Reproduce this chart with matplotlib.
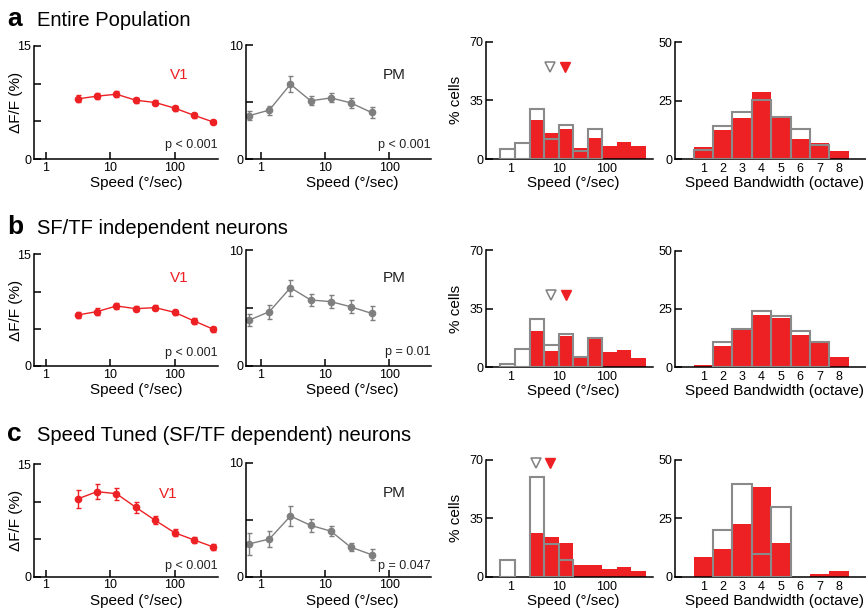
import numpy as np
import matplotlib
matplotlib.use('Agg')
import matplotlib.pyplot as plt

plt.rcParams['font.family'] = ['Liberation Sans', 'DejaVu Sans']

RED = '#ed2024'
GREY = '#7f7f7f'
HGREY = '#8a8a8a'

# ---- data ----
v1_speed = [3.125, 6.25, 12.5, 25, 50, 100, 200, 400]
pm_speed = [0.65, 1.36, 2.9, 6.0, 12.3, 25, 53]

v1_a = [7.98, 8.34, 8.6, 7.8, 7.5, 6.75, 5.8, 4.9]
v1_a_err = [0.45, 0.4, 0.4, 0.35, 0.35, 0.35, 0.35, 0.3]
pm_a = [3.79, 4.29, 6.56, 5.1, 5.36, 4.93, 4.08]
pm_a_err = [0.4, 0.4, 0.7, 0.4, 0.4, 0.45, 0.45]

v1_b = [6.85, 7.3, 8.06, 7.7, 7.84, 7.2, 6.05, 4.93]
v1_b_err = [0.45, 0.45, 0.4, 0.35, 0.35, 0.35, 0.4, 0.3]
pm_b = [3.94, 4.68, 6.75, 5.69, 5.55, 5.11, 4.54]
pm_b_err = [0.5, 0.6, 0.7, 0.55, 0.57, 0.57, 0.6]

v1_c = [10.37, 11.35, 11.08, 9.26, 7.52, 5.87, 4.9, 3.96]
v1_c_err = [1.2, 1.0, 0.8, 0.7, 0.55, 0.5, 0.4, 0.4]
pm_c = [2.87, 3.3, 5.32, 4.5, 4.0, 2.6, 1.93]
pm_c_err = [0.95, 0.7, 0.9, 0.6, 0.45, 0.35, 0.5]

# speed histogram (octave bins)
sp_edges = [0.625, 1.25, 2.5, 5, 10, 20, 40, 80, 160, 320, 640]
hv1_a = [0, 0, 23.3, 15.5, 17.9, 6.6, 12.7, 7.8, 10.1, 7.8]
hpm_a = [6, 9.3, 29.6, 12, 20, 5, 17.9, 0, 0, 0]
hv1_b = [0, 0, 21.6, 9.6, 18.6, 6.2, 17.2, 9, 10.2, 5.4]
hpm_b = [2, 10.8, 28.5, 13, 19.6, 6.2, 17.6, 0, 0, 0]
hv1_c = [0, 0, 26.2, 23.8, 20.2, 7, 7, 4.6, 5.8, 3.4]
hpm_c = [9.8, 0, 59.8, 19.8, 9.8, 0, 0, 0, 0, 0]

# median markers (PM, V1) and their height
med_a = (6.7, 13.8, 55)
med_b = (7.1, 14.4, 43)
med_c = (3.45, 6.7, 68)

# speed bandwidth histogram
bw = [1, 2, 3, 4, 5, 6, 7, 8]
bv1_a = [5, 12.4, 17.7, 28.7, 17.9, 8.6, 6.7, 3.4]
bpm_a = [3.7, 14.3, 20.3, 25.1, 17.9, 13, 6, 0]
bv1_b = [0.7, 9, 16.2, 22.2, 21.2, 13.9, 10.9, 4.3]
bpm_b = [0, 10.9, 16.2, 24.2, 22.1, 15.5, 10.9, 0]
bv1_c = [8.4, 11.9, 22.6, 38.4, 14.4, 0, 1, 2.4]
bpm_c = [0, 19.9, 39.9, 9.9, 29.9, 0, 0, 0]

titles = ['Entire Population', 'SF/TF independent neurons',
          'Speed Tuned (SF/TF dependent) neurons']
letters = ['a', 'b', 'c']
pvals_v1 = ['p < 0.001', 'p < 0.001', 'p < 0.001']
pvals_pm = ['p < 0.001', 'p = 0.01', 'p = 0.047']

W, H = 866, 614
fig = plt.figure(figsize=(W / 100, H / 100), dpi=100)


def px_axes(l, r, t, b):
    return fig.add_axes([l / W, 1 - b / H, (r - l) / W, (b - t) / H])


def style(ax):
    for s in ('top', 'right'):
        ax.spines[s].set_visible(False)
    for s in ('left', 'bottom'):
        ax.spines[s].set_linewidth(1.1)
    ax.tick_params(direction='in', length=5, width=1.1, labelsize=9, pad=2)
    ax.minorticks_off()


def xlabel_at(ax, text, xfrac, top_px):
    # place the x label so its top sits top_px below the axis line
    ax.set_xlabel(text, fontsize=11)
    h = ax.get_position().height * H
    ax.xaxis.set_label_coords(xfrac, -top_px / h)


def line_panel(ax, x, y, err, color, ymax, yticks, ylabels, name, ptxt, name_xy, p_y):
    ax.errorbar(x, y, yerr=err, color=color, marker='o', ms=4.5, lw=1.0,
                elinewidth=1.0, capsize=1.8, capthick=1.0)
    ax.set_xscale('log')
    style(ax)
    ax.set_ylim(0, ymax)
    ax.set_yticks(yticks)
    ax.set_yticklabels(ylabels)
    ax.set_xticks([1, 10, 100])
    ax.set_xticklabels(['1', '10', '100'])
    ax.minorticks_off()
    ax.text(name_xy[0], name_xy[1], name, transform=ax.transAxes, fontsize=11,
            color=RED if name == 'V1' else '#222222', ha='center', va='center')
    ax.text(1.0, p_y, ptxt, transform=ax.transAxes, fontsize=9,
            ha='right', va='center', color='#222222')


def speed_hist(ax, v1, pm, med):
    left = np.array(sp_edges[:-1])
    width = np.array(sp_edges[1:]) - left
    v1 = np.array(v1)
    pm = np.array(pm)
    ax.bar(left, v1, width=width, align='edge', color=RED, edgecolor='none', zorder=2)
    m = pm > 0
    ax.bar(left[m], pm[m], width=width[m], align='edge', fill=False,
           edgecolor=HGREY, linewidth=1.5, zorder=3)
    ax.plot([med[0]], [med[2]], marker='v', ms=7, mfc='white', mec=GREY, mew=1.1,
            ls='none', zorder=4, clip_on=False)
    ax.plot([med[1]], [med[2]], marker='v', ms=7, mfc=RED, mec=RED, mew=1.0,
            ls='none', zorder=4, clip_on=False)
    ax.set_xscale('log')
    style(ax)
    ax.set_xlim(0.314, 903)
    ax.set_ylim(0, 70)
    ax.set_yticks([0, 35, 70])
    ax.set_xticks([1, 10, 100])
    ax.set_xticklabels(['1', '10', '100'])
    ax.minorticks_off()
    ax.tick_params(axis='x', length=0, pad=3)
    ax.set_ylabel('% cells', fontsize=11)
    ax.yaxis.set_label_coords(-0.14, 0.5)


def bw_hist(ax, v1, pm):
    x = np.array(bw)
    pm = np.array(pm)
    ax.bar(x, v1, width=1.0, color=RED, edgecolor='none', zorder=2)
    m = pm > 0
    ax.bar(x[m], pm[m], width=1.0, fill=False, edgecolor=HGREY, linewidth=1.5, zorder=3)
    style(ax)
    ax.set_xlim(-0.46, 9.39)
    ax.set_ylim(0, 50)
    ax.set_yticks([0, 25, 50])
    ax.set_xticks(bw)
    ax.tick_params(axis='x', length=0, pad=3)


v1_rows = [(v1_a, v1_a_err), (v1_b, v1_b_err), (v1_c, v1_c_err)]
pm_rows = [(pm_a, pm_a_err), (pm_b, pm_b_err), (pm_c, pm_c_err)]
hist_rows = [(hv1_a, hpm_a, med_a), (hv1_b, hpm_b, med_b), (hv1_c, hpm_c, med_c)]
bw_rows = [(bv1_a, bpm_a), (bv1_b, bpm_b), (bv1_c, bpm_c)]

# pixel geometry of each row: (top, bottom) for V1, PM, speed hist, bandwidth hist
row_geo = [
    dict(v1=(46, 159), pm=(45, 159), hs=(41.7, 159), bw=(42.3, 159), title=26,
         v1_name=(0.79, 0.74), pm_name=(0.80, 0.74), p_y=0.12),
    dict(v1=(254.3, 366), pm=(250, 366), hs=(250, 367), bw=(250.7, 367), title=234,
         v1_name=(0.79, 0.785), pm_name=(0.80, 0.756), p_y=0.12),
    dict(v1=(464.3, 576.7), pm=(462.7, 576.7), hs=(460, 576.7), bw=(460, 576.7), title=441,
         v1_name=(0.73, 0.74), pm_name=(0.80, 0.73), p_y=0.094),
]

for i, g in enumerate(row_geo):
    fig.text(7 / W, 1 - g['title'] / H, letters[i], fontsize=19, fontweight='bold',
             va='baseline', ha='left')
    fig.text(37 / W, 1 - g['title'] / H, titles[i], fontsize=14.5,
             va='baseline', ha='left')

    ax1 = px_axes(34, 218, *g['v1'])
    y, e = v1_rows[i]
    line_panel(ax1, v1_speed, y, e, RED, 15, [0, 5, 10, 15], ['0', '', '', '15'],
               'V1', pvals_v1[i], g['v1_name'], g['p_y'])
    ax1.set_xlim(0.66, 470)
    ax1.set_ylabel('ΔF/F (%)', fontsize=11)
    ax1.yaxis.set_label_coords(-0.06, 0.5)
    xlabel_at(ax1, 'Speed (°/sec)', 0.557, 17)

    ax2 = px_axes(246, 431, *g['pm'])
    y, e = pm_rows[i]
    line_panel(ax2, pm_speed, y, e, GREY, 10, [0, 5, 10], ['0', '', '10'],
               'PM', pvals_pm[i], g['pm_name'], g['p_y'])
    ax2.set_xlim(0.59, 446)
    xlabel_at(ax2, 'Speed (°/sec)', 0.577, 17)

    ax3 = px_axes(486, 653, *g['hs'])
    v, p, med = hist_rows[i]
    speed_hist(ax3, v, p, med)
    xlabel_at(ax3, 'Speed (°/sec)', 0.52, 17)

    ax4 = px_axes(675, 866, *g['bw'])
    v, p = bw_rows[i]
    bw_hist(ax4, v, p)
    xlabel_at(ax4, 'Speed Bandwidth (octave)', 0.52, 17)

fig.savefig('out.png', dpi=100)
